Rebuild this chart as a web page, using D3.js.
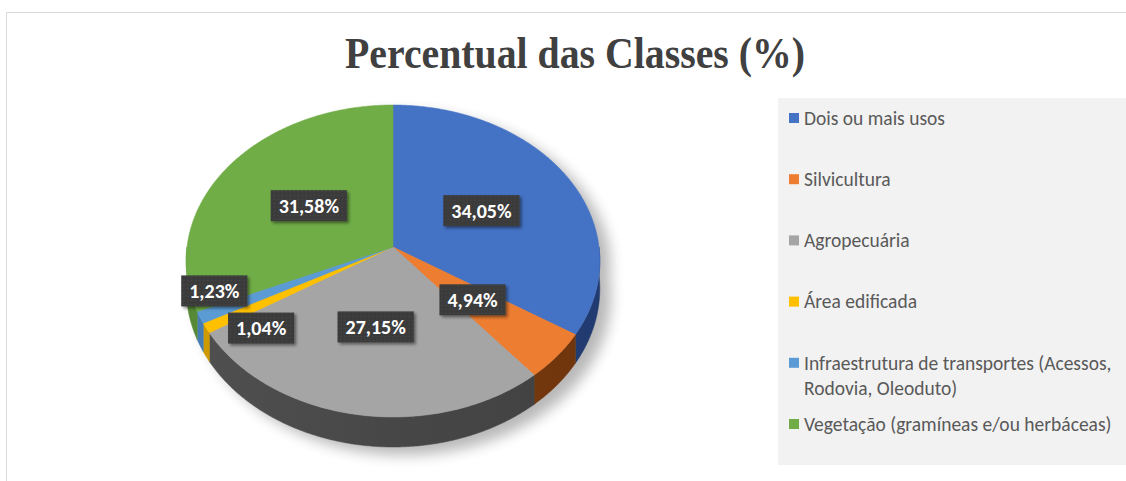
<!DOCTYPE html>
<html>
<head>
<meta charset="utf-8">
<script src="https://cdn.jsdelivr.net/npm/d3@7"></script>
<style>
    html, body { margin: 0; padding: 0; background: #fff; }
    svg { display: block; }
</style>
</head>
<body>
<svg id="chart" width="1126" height="481"></svg>
<script>
/**
 * Data.
 */
const categories = [
    'Dois ou mais usos',
    'Silvicultura',
    'Agropecuária',
    'Área edificada',
    'Infraestrutura de transportes (Acessos, Rodovia, Oleoduto)',
    'Vegetação (gramíneas e/ou herbáceas)'
];
const values = [34.05, 4.94, 27.15, 1.04, 1.23, 31.58];
const valueLabels = ['34,05%', '4,94%', '27,15%', '1,04%', '1,23%', '31,58%'];
const legendLines = [
    ['Dois ou mais usos'],
    ['Silvicultura'],
    ['Agropecuária'],
    ['Área edificada'],
    ['Infraestrutura de transportes (Acessos,', 'Rodovia, Oleoduto)'],
    ['Vegetação (gramíneas e/ou herbáceas)']
];
const title = 'Percentual das Classes (%)';

/**
 * Visual configs.
 */
const topColors = ['#4472c4', '#ed7d31', '#a5a5a5', '#ffc000', '#5b9bd5', '#70ad47'],
    sideColors = ['#24417a', '#7a3a0e', '#474747', '#b88a00', '#3d6fa0', '#4d7a30'];

// Pie seen in perspective: far edge, centre and near edge of the top face (screen y)
const pieCx = 393, pieRx = 206,
    yFar = 105, yCentre = 247, yNear = 417,
    frontDepth = 30;

// Solve y = (a v + b) / (c v + 1) through the three measured points (v = 1 far, 0 centre, -1 near)
const pc = (2 * yCentre - yNear - yFar) / (yFar - yNear),
    pb = yCentre,
    pa = yFar * (pc + 1) - pb;
const depth0 = frontDepth * (1 - pc);

// Labels sit half way out; the two thin slices were moved by hand in the original
const labelRadius = [0.5, 0.5, 0.5, 0.79, 0.89, 0.5],
    labelAngleShift = [0, 0, 0, -9.3, 7.8, 0]; // degrees

const svg = d3.select('#chart');
const defs = svg.append('defs');

function proj(u, v) {
    const w = 1 + pc * v;
    return [pieCx + pieRx * u / w, (pa * v + pb) / w];
}

function rimPoint(angle, r = 1) {
    return proj(r * Math.sin(angle), r * Math.cos(angle));
}

function rimBottom(angle) {
    const p = rimPoint(angle), v = Math.cos(angle);
    return [p[0], p[1] + depth0 / (1 + pc * v)];
}

function sampleAngles(a0, a1) {
    const n = Math.max(2, Math.ceil((a1 - a0) / (Math.PI / 360)));
    return d3.range(n + 1).map(i => a0 + (a1 - a0) * i / n);
}

const line = d3.line();

/**
 * Chart frame.
 */
svg.append('path')
    .attr('d', 'M6.5,481 V12.5 H1126')
    .attr('fill', 'none')
    .attr('stroke', '#d9d9d9')
    .attr('stroke-width', 1);

/**
 * Title.
 */
svg.append('text')
    .attr('x', 575)
    .attr('y', 68)
    .attr('text-anchor', 'middle')
    .attr('font-family', '"Times New Roman", "Liberation Serif", serif')
    .attr('font-weight', 'bold')
    .attr('font-size', 45)
    .attr('textLength', 460)
    .attr('lengthAdjust', 'spacingAndGlyphs')
    .attr('fill', '#404040')
    .text(title);

/**
 * Pie layout.
 */
const pie = d3.pie().sort(null).value(d => d)
    .startAngle(0).endAngle(2 * Math.PI);
const arcs = pie(values);

// Shadow
const shadowFilter = defs.append('filter').attr('id', 'pieShadow')
    .attr('x', '-20%').attr('y', '-20%').attr('width', '140%').attr('height', '140%');
shadowFilter.append('feGaussianBlur').attr('stdDeviation', 7);

const silhouette = sampleAngles(0, 2 * Math.PI)
    .map(a => Math.cos(a) < 0 ? rimBottom(a) : rimPoint(a));
svg.append('path')
    .attr('d', line(silhouette) + 'Z')
    .attr('transform', 'translate(11,8)')
    .attr('fill', '#000')
    .attr('opacity', 0.28)
    .attr('filter', 'url(#pieShadow)');

// Side walls (front half only)
const wallGroup = svg.append('g').attr('class', 'walls');
arcs.forEach((d, i) => {
    const a0 = Math.max(d.startAngle, Math.PI / 2),
        a1 = Math.min(d.endAngle, 3 * Math.PI / 2);
    if (a1 <= a0) return;

    const grad = defs.append('linearGradient')
        .attr('id', 'wall' + i)
        .attr('gradientUnits', 'userSpaceOnUse')
        .attr('x1', pieCx - pieRx).attr('x2', pieCx + pieRx)
        .attr('y1', 0).attr('y2', 0);
    const base = d3.color(sideColors[i]);
    grad.append('stop').attr('offset', 0).attr('stop-color', base.brighter(0.35));
    grad.append('stop').attr('offset', 0.5).attr('stop-color', base);
    grad.append('stop').attr('offset', 1).attr('stop-color', base.darker(0.25));

    const angles = sampleAngles(a0, a1);
    const topEdge = angles.map(a => rimPoint(a));
    const bottomEdge = angles.map(rimBottom).reverse();

    wallGroup.append('path')
        .attr('d', line(topEdge.concat(bottomEdge)) + 'Z')
        .attr('fill', 'url(#wall' + i + ')')
        .attr('stroke', 'url(#wall' + i + ')')
        .attr('stroke-width', 0.5);
});

// Top faces
const faceGroup = svg.append('g').attr('class', 'faces');
arcs.forEach((d, i) => {
    const pts = [proj(0, 0)].concat(sampleAngles(d.startAngle, d.endAngle).map(a => rimPoint(a)));
    faceGroup.append('path')
        .attr('d', line(pts) + 'Z')
        .attr('fill', topColors[i])
        .attr('stroke', topColors[i])
        .attr('stroke-width', 0.5);
});

/**
 * Data labels.
 */
const labelShadow = defs.append('filter').attr('id', 'labelShadow')
    .attr('x', '-20%').attr('y', '-30%').attr('width', '150%').attr('height', '170%');
labelShadow.append('feDropShadow')
    .attr('dx', 2).attr('dy', 2).attr('stdDeviation', 1.5)
    .attr('flood-color', '#000').attr('flood-opacity', 0.45);

const dots = defs.append('pattern').attr('id', 'dots')
    .attr('width', 4).attr('height', 4).attr('patternUnits', 'userSpaceOnUse');
dots.append('rect').attr('width', 4).attr('height', 4).attr('fill', '#3a3a3a');
dots.append('rect').attr('x', 1).attr('y', 1).attr('width', 1).attr('height', 1).attr('fill', '#4e4e4e');

const labelGroup = svg.append('g').attr('class', 'labels');
arcs.forEach((d, i) => {
    const mid = (d.startAngle + d.endAngle) / 2 + labelAngleShift[i] * Math.PI / 180;
    const [x, y] = rimPoint(mid, labelRadius[i]);

    const g = labelGroup.append('g').attr('transform', 'translate(' + x + ',' + y + ')');
    const rect = g.append('rect').attr('filter', 'url(#labelShadow)').attr('fill', 'url(#dots)');
    const text = g.append('text')
        .attr('text-anchor', 'middle')
        .attr('dy', '0.36em')
        .attr('font-family', 'Carlito, Lato, "Open Sans", sans-serif')
        .attr('font-weight', 'bold')
        .attr('font-size', 20)
        .attr('fill', '#fff')
        .text(valueLabels[i]);

    const w = text.node().getComputedTextLength() + 16, h = 31;
    rect.attr('x', -w / 2).attr('y', -h / 2).attr('width', w).attr('height', h);
});

/**
 * Legend.
 */
svg.append('rect')
    .attr('x', 778).attr('y', 98)
    .attr('width', 348).attr('height', 367)
    .attr('fill', '#f2f2f2');

const legendY = d3.scaleLinear().domain([0, categories.length - 1]).range([118, 424]);
const legend = svg.append('g').attr('class', 'legend');
categories.forEach((c, i) => {
    const y = legendY(i);
    legend.append('rect')
        .attr('x', 789).attr('y', y - 5)
        .attr('width', 10).attr('height', 10)
        .attr('fill', topColors[i]);
    legendLines[i].forEach((t, j) => {
        legend.append('text')
            .attr('x', 804)
            .attr('y', y + j * 25)
            .attr('dy', '0.35em')
            .attr('font-family', 'Carlito, Lato, "Open Sans", sans-serif')
            .attr('font-size', 19.5)
            .attr('fill', '#595959')
            .text(t);
    });
});
</script>
</body>
</html>
